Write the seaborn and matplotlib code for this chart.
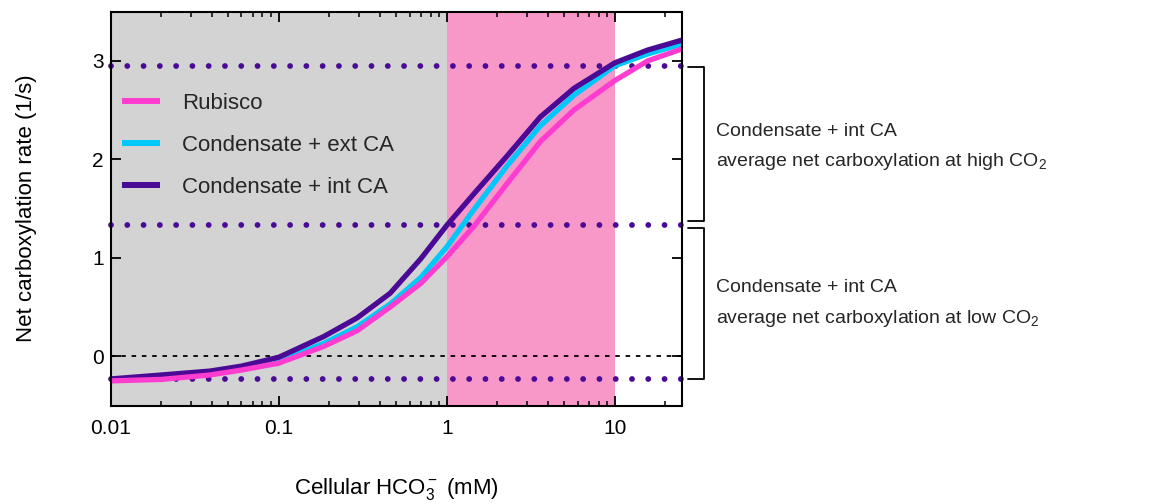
import numpy as np
import pandas as pd
import matplotlib
matplotlib.use("Agg")
import matplotlib.pyplot as plt
from matplotlib.lines import Line2D
from matplotlib.ticker import FixedLocator, FixedFormatter, LogLocator, NullFormatter
import seaborn as sns

# Cellular bicarbonate concentration (mM)
hco3 = [0.01, 0.02, 0.039, 0.06, 0.1, 0.185, 0.293, 0.46, 0.70, 1.0,
        1.45, 2.3, 3.6, 5.7, 10.0, 15.7, 25.0]

# Net carboxylation rate (1/s) for each model
rubisco = [-0.25, -0.235, -0.19, -0.14, -0.07, 0.10, 0.26, 0.50, 0.74, 1.01,
           1.32, 1.76, 2.18, 2.50, 2.80, 3.00, 3.12]
ext_ca = [-0.24, -0.22, -0.17, -0.13, -0.05, 0.13, 0.30, 0.53, 0.80, 1.11,
          1.49, 1.94, 2.34, 2.65, 2.95, 3.07, 3.17]
int_ca = [-0.23, -0.19, -0.15, -0.10, -0.01, 0.20, 0.39, 0.64, 0.99, 1.33,
          1.65, 2.04, 2.43, 2.72, 2.98, 3.11, 3.21]

series_names = ["Rubisco", "Condensate + ext CA", "Condensate + int CA"]

# Average net carboxylation of the int-CA condensate (high / low CO2 bounds)
avg_levels = [2.95, 1.335, -0.23]

low_co2_range = (0.01, 1.0)
high_co2_range = (1.0, 10.0)

x_ticks = [0.01, 0.1, 1, 10]
x_tick_labels = ["0.01", "0.1", "1", "10"]
y_ticks = [0, 1, 2, 3]

colors = {
    "Rubisco": "#FF3CD0",
    "Condensate + ext CA": "#00C8F8",
    "Condensate + int CA": "#4A0A96",
}
dot_color = "#4A0A96"

df = pd.DataFrame({
    "hco3": hco3 * 3,
    "rate": rubisco + ext_ca + int_ca,
    "model": [n for n in series_names for _ in hco3],
})

sns.set_theme(style="ticks")
plt.rcParams["font.family"] = ["Liberation Sans", "DejaVu Sans"]
plt.rcParams["mathtext.fontset"] = "custom"
plt.rcParams["mathtext.rm"] = "Liberation Sans"
plt.rcParams["mathtext.it"] = "Liberation Sans:italic"

fig = plt.figure(figsize=(11.58, 5.04), dpi=100)
ax = fig.add_axes([0.0956, 0.1954, 0.4931, 0.7816])

ax.set_xscale("log")
ax.set_xlim(0.01, 25)
ax.set_ylim(-0.5, 3.5)

ax.axvspan(*low_co2_range, color="#D3D3D3", lw=0, zorder=0)
ax.axvspan(*high_co2_range, color="#F898C8", lw=0, zorder=0)

ax.axhline(0, color="black", lw=1.3, ls=(0, (2.5, 3.2)), zorder=1)
for lvl in avg_levels:
    ax.axhline(lvl, color=dot_color, lw=4.2, ls=(0, (0.001, 2.79)),
               dash_capstyle="round", zorder=1, clip_on=False)

# draw order: ext CA underneath, then int CA, Rubisco on top
for name, z in [("Condensate + ext CA", 3), ("Condensate + int CA", 4), ("Rubisco", 5)]:
    sns.lineplot(data=df[df["model"] == name], x="hco3", y="rate",
                 color=colors[name], lw=3.8, ax=ax, legend=False,
                 zorder=z, solid_capstyle="butt", solid_joinstyle="round")

ax.xaxis.set_major_locator(FixedLocator(x_ticks))
ax.xaxis.set_major_formatter(FixedFormatter(x_tick_labels))
ax.xaxis.set_minor_locator(LogLocator(base=10, subs=np.arange(2, 10), numticks=20))
ax.xaxis.set_minor_formatter(NullFormatter())
ax.set_yticks(y_ticks)

for s in ax.spines.values():
    s.set_color("black")
    s.set_linewidth(1.5)
    s.set_zorder(6)

ax.tick_params(axis="x", which="major", direction="in", top=True, bottom=True,
               length=7, width=1.3, labelsize=15, pad=10, colors="black")
ax.tick_params(axis="x", which="minor", direction="in", top=True, bottom=True,
               length=3.8, width=1.1, colors="black")
ax.tick_params(axis="y", which="major", direction="in", left=True, right=True,
               length=7, width=1.3, labelsize=15, pad=5, colors="black")

ax.set_xlabel(r"Cellular HCO$\mathregular{_3^-}$ (mM)", fontsize=16, color="black")
ax.set_ylabel("Net carboxylation rate (1/s)", fontsize=16, color="black")
ax.xaxis.set_label_coords(0.5, -0.213)
ax.xaxis.label.set_va("center")
ax.yaxis.set_label_coords(-0.148, 0.5)
ax.yaxis.label.set_va("center")

handles = [Line2D([], [], color=colors[n], lw=4.3, solid_capstyle="butt") for n in series_names]
ax.legend(handles, series_names, loc="center left", bbox_to_anchor=(0.005, 0.661),
          frameon=False, fontsize=16, handlelength=1.7, handletextpad=1.0,
          labelspacing=0.95, borderaxespad=0)

# Brackets marking the two average-rate ranges
bx0, bx1 = 1.011, 1.039
tr = ax.get_yaxis_transform()
for top, bottom in [(2.935, 1.37), (1.30, -0.23)]:
    ax.plot([bx0, bx1, bx1, bx0], [top, top, bottom, bottom], color="black",
            lw=1.3, transform=tr, clip_on=False, zorder=6)

fig.text(0.618, 0.740, "Condensate + int CA", fontsize=14, va="center", ha="left")
fig.text(0.618, 0.679, r"average net carboxylation at high CO$\mathregular{_2}$",
         fontsize=14, va="center", ha="left")
fig.text(0.618, 0.429, "Condensate + int CA", fontsize=14, va="center", ha="left")
fig.text(0.618, 0.369, r"average net carboxylation at low CO$\mathregular{_2}$",
         fontsize=14, va="center", ha="left")

fig.savefig("out.png", dpi=100)
